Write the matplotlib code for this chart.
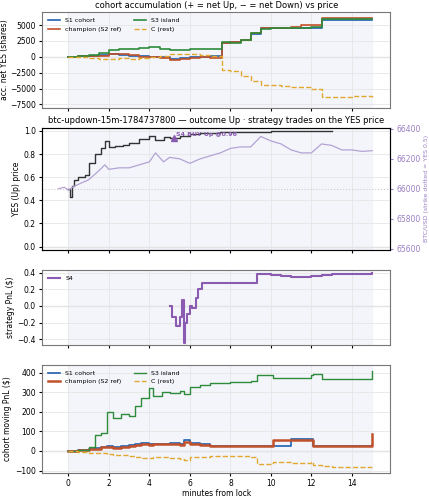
import numpy as np
import matplotlib.pyplot as plt

# ---------------------------------------------------------------------
# Data (minutes from lock)
# ---------------------------------------------------------------------
T_ACC = [0, 0.5, 1.0, 1.5, 2.0, 2.5, 3.0, 3.5, 4.0, 4.5, 5.0, 5.5, 6.0, 6.5, 7.0, 7.6, 8.0, 8.5, 9.0,
         9.5, 10.0, 10.5, 11.0, 11.5, 12.0, 12.5, 13.0, 13.5, 14.0, 15.0]
S1_ACC = [0, 100, 200, 250, 400, 350, 200, 100, 0, -100, -300, -200, -100, 0, 100, 2200, 2300, 2600,
          3600, 4500, 4550, 4550, 4500, 4600, 4600, 5800, 5800, 5800, 5800, 5800]
S2_ACC = [0, 150, 150, 200, 500, 400, 300, 0, -100, -200, -500, -300, -200, -100, -200, 2200, 2300, 2600,
          3700, 4500, 4550, 4600, 4700, 5000, 5000, 6200, 6200, 6200, 6200, 6200]
S3_ACC = [0, 200, 350, 600, 1100, 1200, 1300, 1400, 1500, 1300, 1100, 1000, 1200, 1300, 1300, 2300, 2200, 2600,
          3800, 4400, 4550, 4550, 4500, 4600, 4700, 6000, 6000, 6000, 6000, 6000]
C_ACC = [0, -50, -200, -300, -400, -200, -300, -200, 0, 200, 400, 500, 400, 300, 200, -2100, -2300, -3000,
         -3800, -4400, -4500, -4600, -4700, -4800, -5000, -6300, -6300, -6300, -6200, -6300]

T_YES = [0.0, 0.1, 0.2, 0.3, 0.5, 0.8, 1.0, 1.3, 1.6, 1.8, 2.0, 2.3, 2.7, 3.0, 3.5, 4.0, 4.3, 4.7, 5.0,
         5.5, 6.0, 6.5, 7.0, 7.5, 8.0, 9.0, 10.0, 11.0, 12.0, 13.0]
YES = [0.50, 0.43, 0.52, 0.58, 0.60, 0.62, 0.72, 0.80, 0.85, 0.91, 0.86, 0.87, 0.88, 0.90, 0.93, 0.96, 0.92, 0.95, 0.94,
       0.96, 0.97, 0.98, 0.98, 0.99, 0.99, 0.99, 1.00, 1.00, 1.00, 1.00]

T_BTC = [-0.5, -0.2, 0.0, 0.2, 0.5, 1.0, 1.5, 1.8, 2.0, 2.5, 3.0, 3.5, 4.0, 4.3, 4.7, 5.0, 5.5, 6.0, 6.5, 7.0,
         7.5, 8.0, 8.5, 9.0, 9.5, 10.0, 10.5, 11.0, 11.5, 12.0, 12.5, 13.0, 13.5, 14.0, 14.5, 15.0]
BTC = [66000, 66010, 65990, 66010, 66030, 66060, 66120, 66160, 66130, 66140, 66140, 66160, 66180, 66240, 66180, 66210,
       66200, 66170, 66200, 66220, 66240, 66270, 66280, 66280, 66350, 66320, 66300, 66260, 66240, 66240, 66300, 66290,
       66260, 66260, 66250, 66255]

T_S4 = [5.0, 5.1, 5.3, 5.5, 5.6, 5.7, 5.75, 5.85, 6.0, 6.1, 6.3, 6.4, 6.6, 6.8, 7.0, 9.0, 9.3, 10.0, 10.5,
        11.0, 12.0, 12.5, 13.0, 14.0, 15.0]
S4_PNL = [0.0, -0.13, -0.24, -0.13, 0.07, -0.44, -0.2, -0.1, 0.0, -0.02, 0.1, 0.2, 0.28, 0.28, 0.28, 0.28, 0.38,
          0.37, 0.36, 0.35, 0.36, 0.37, 0.38, 0.38, 0.39]

T_PNL = [0, 0.5, 1.0, 1.3, 1.6, 1.9, 2.2, 2.6, 3.0, 3.3, 3.6, 4.0, 4.2, 4.6, 5.0, 5.5, 5.7, 6.0, 6.5, 7.0,
         8.0, 9.0, 9.3, 10.0, 10.1, 11.0, 12.0, 12.1, 12.5, 13.0, 14.0, 15.0]
S1_PNL = [0, 3, 10, 15, 20, 25, 20, 25, 30, 35, 40, 35, 35, 35, 40, 35, 55, 40, 35, 28, 28, 28, 28, 28, 28, 60, 60,
          28, 28, 28, 28, 30]
S2_PNL = [0, 3, 8, 12, 18, 20, 15, 22, 28, 32, 38, 33, 35, 35, 38, 33, 45, 38, 30, 25, 25, 25, 25, 25, 58, 58, 58,
          25, 25, 25, 25, 85]
S3_PNL = [0, 5, 20, 80, 90, 200, 170, 190, 180, 230, 270, 320, 280, 300, 295, 305, 290, 330, 340, 350, 355, 360, 390,
          390, 375, 375, 390, 395, 370, 370, 370, 410]
C_PNL = [0, -3, -8, -10, -12, -15, -18, -20, -25, -30, -35, -35, -30, -32, -35, -40, -45, -32, -30, -28, -28, -30,
         -65, -60, -55, -60, -55, -70, -75, -80, -80, -82]

S1_C, S2_C, S3_C, C_C, S4_C = "#1f5fb0", "#c0512a", "#2e8b3a", "#e0a82e", "#8a5bb0"
BG = "#f3f5fb"
FS = 5.5


def shade(ax):
    ax.axvspan(0, 15, color=BG, zorder=0)
    ax.axhline(0, color="#dddddd", lw=1, zorder=0.5)
    ax.grid(True, color="#e6e6e6", lw=0.6)
    ax.set_xlim(-1.3, 15.9)
    ax.tick_params(labelsize=FS, length=2.5, pad=2)
    for s in ax.spines.values():
        s.set_color("#777777")


fig = plt.figure(figsize=(4.29, 5.0), dpi=100)
L, W = 0.098, 0.812
ax1 = fig.add_axes([L, 0.785, W, 0.19])
ax2 = fig.add_axes([L, 0.50, W, 0.245])
ax3 = fig.add_axes([L, 0.31, W, 0.15])
ax4 = fig.add_axes([L, 0.055, W, 0.215])

# 1. accumulation
shade(ax1)
ax1.step(T_ACC, S1_ACC, where="post", color=S1_C, lw=1.2, label="S1 cohort")
ax1.step(T_ACC, S2_ACC, where="post", color=S2_C, lw=1.2, label="champion (S2 ref)")
ax1.step(T_ACC, S3_ACC, where="post", color=S3_C, lw=1.2, label="S3 island")
ax1.step(T_ACC, C_ACC, where="post", color=C_C, lw=1.0, ls="--", label="C (rest)")
ax1.set_ylim(-8000, 7000)
ax1.set_yticks([-7500, -5000, -2500, 0, 2500, 5000])
ax1.set_ylabel("acc. net YES (shares)", fontsize=FS, labelpad=1)
ax1.set_title("cohort accumulation (+ = net Up, − = net Down) vs price", fontsize=6, pad=3)
ax1.legend(fontsize=4.5, ncol=2, loc="upper left", frameon=False)
ax1.set_xticklabels([])

# 2. YES price + BTC
shade(ax2)
ax2.axhline(0.5, color="#cccccc", lw=0.8, ls=":")
ax2.step(T_YES, YES, where="post", color="#333333", lw=1.0)
ax2.plot(5.2, 0.94, marker="^", color=S4_C, ms=5)
ax2.text(5.3, 0.96, "S4 BUY Up @0.96", color=S4_C, fontsize=4.5, fontweight="bold")
ax2.set_ylim(-0.03, 1.03)
ax2.set_ylabel("YES (Up) price", fontsize=FS, labelpad=2)
ax2.set_title("btc-updown-15m-1784737800 — outcome Up · strategy trades on the YES price", fontsize=6, pad=3)
ax2.set_xticklabels([])
axb = ax2.twinx()
axb.plot(T_BTC, BTC, color="#b3a3d3", lw=0.9)
axb.set_ylim(65590, 66410)
axb.set_yticks([65600, 65800, 66000, 66200, 66400])
axb.tick_params(labelsize=FS, colors="#9a7fc4", length=2.5, pad=2)
axb.set_ylabel("BTC/USD (strike dotted = YES 0.5)", fontsize=4.5, color="#9a7fc4", labelpad=2)

# 3. strategy PnL
shade(ax3)
ax3.step(T_S4, S4_PNL, where="post", color=S4_C, lw=1.5, label="S4")
ax3.set_ylim(-0.47, 0.43)
ax3.set_yticks([-0.4, -0.2, 0.0, 0.2, 0.4])
ax3.set_ylabel("strategy PnL ($)", fontsize=FS, labelpad=2)
ax3.legend(fontsize=4.5, loc="upper left", frameon=False)
ax3.set_xticklabels([])

# 4. cohort moving PnL
shade(ax4)
ax4.step(T_PNL, S1_PNL, where="post", color=S1_C, lw=1.2, label="S1 cohort")
ax4.step(T_PNL, S2_PNL, where="post", color=S2_C, lw=1.8, label="champion (S2 ref)")
ax4.step(T_PNL, S3_PNL, where="post", color=S3_C, lw=1.0, label="S3 island")
ax4.step(T_PNL, C_PNL, where="post", color=C_C, lw=1.0, ls="--", label="C (rest)")
ax4.set_ylim(-110, 440)
ax4.set_yticks([-100, 0, 100, 200, 300, 400])
ax4.set_ylabel("cohort moving PnL ($)", fontsize=FS, labelpad=2)
ax4.set_xlabel("minutes from lock", fontsize=FS, labelpad=1)
ax4.legend(fontsize=4.5, ncol=2, loc="upper left", frameon=False)

for ax in (ax1, ax2, ax3, ax4):
    ax.set_xticks([0, 2, 4, 6, 8, 10, 12, 14])
ax4.set_xticklabels(["0", "2", "4", "6", "8", "10", "12", "14"])

fig.savefig("out.png", dpi=100)
